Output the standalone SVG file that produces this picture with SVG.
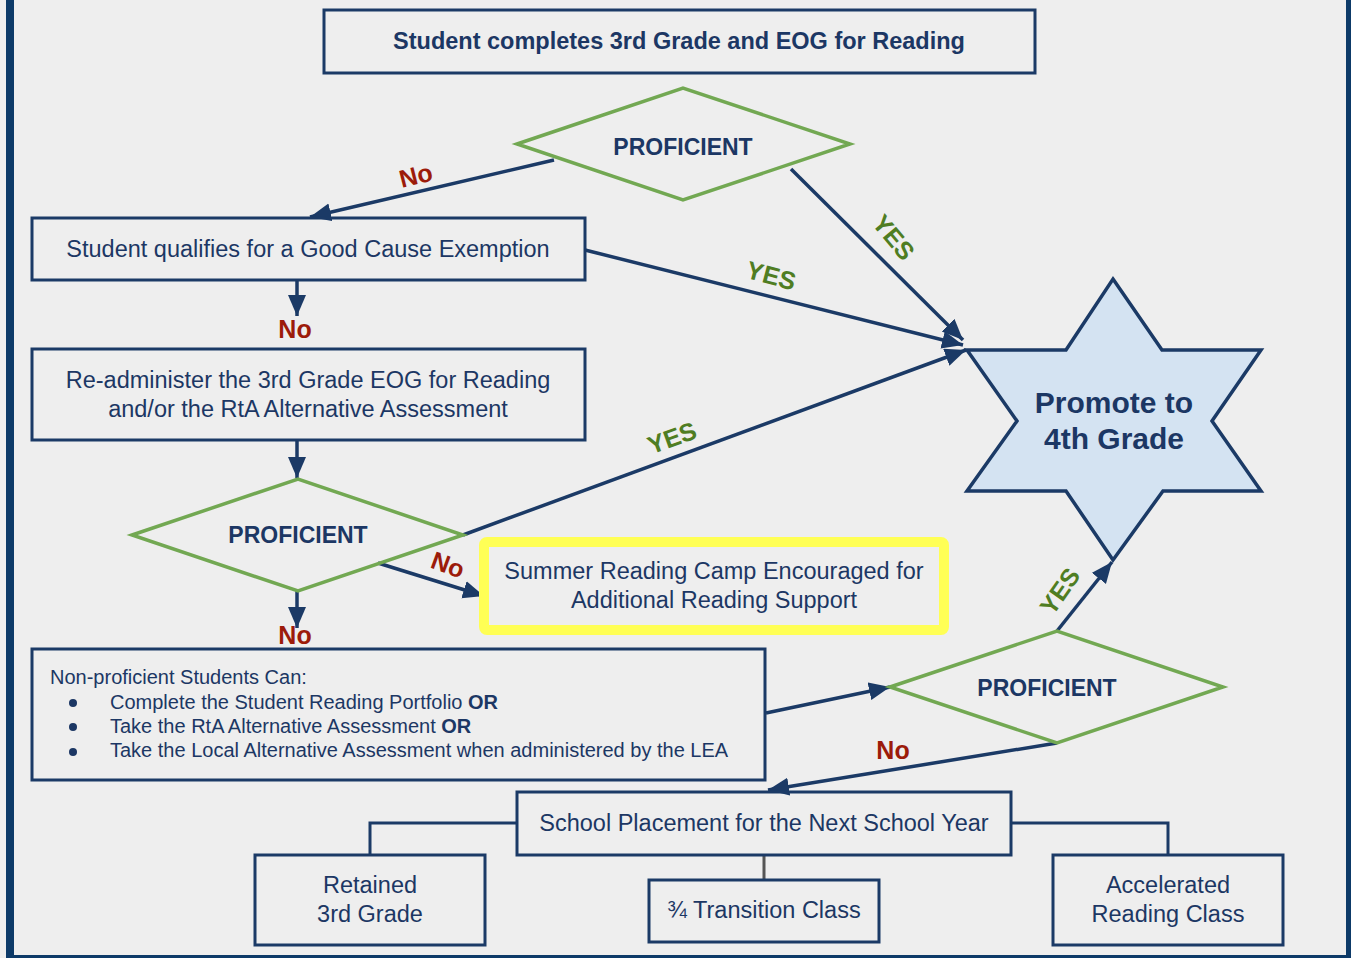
<svg xmlns="http://www.w3.org/2000/svg" width="1351" height="958" viewBox="0 0 1351 958">
<defs>
<marker id="ah" markerUnits="userSpaceOnUse" markerWidth="24" markerHeight="20" refX="21" refY="9" orient="auto">
<path d="M0,0 L21,9 L0,18 z" fill="#1b3a66"/>
</marker>
<style>
.bg{fill:#eeeeee}
.frame{fill:#0d3a68}
.box{fill:none;stroke:#1b3a66;stroke-width:3}
.dia{fill:none;stroke:#72a852;stroke-width:3.5;stroke-linejoin:miter}
.t{font-family:"Liberation Sans",Arial,sans-serif;font-size:23.5px;fill:#1c3764;text-anchor:middle}
.b{font-weight:bold}
.small{font-size:20px;text-anchor:start}
.no{font-family:"Liberation Sans",Arial,sans-serif;font-size:25px;font-weight:bold;fill:#9c1b0a;text-anchor:middle}
.yes{font-family:"Liberation Sans",Arial,sans-serif;font-size:25px;font-weight:bold;fill:#4f7d22;text-anchor:middle}
.ln{fill:none;stroke:#1b3a66;stroke-width:3}
.arr{fill:none;stroke:#1b3a66;stroke-width:3.5;marker-end:url(#ah)}
</style>
</defs>
<rect class="bg" x="0" y="0" width="1351" height="958"/>
<rect class="frame" x="6" y="0" width="8" height="958"/>
<rect class="frame" x="1346" y="0" width="5" height="958"/>
<rect class="frame" x="6" y="955" width="1345" height="3"/>

<g id="connectors">
<line class="arr" x1="554" y1="160" x2="310" y2="217"/>
<line class="arr" x1="791" y1="169" x2="963" y2="340"/>
<line class="arr" x1="585" y1="250" x2="963" y2="345"/>
<line class="arr" x1="297" y1="280" x2="297" y2="316"/>
<line class="arr" x1="297" y1="440" x2="297" y2="478"/>
<line class="arr" x1="463" y1="535" x2="966" y2="350"/>
<line class="arr" x1="378" y1="563" x2="484" y2="596"/>
<line class="arr" x1="297" y1="591" x2="297" y2="628"/>
<line class="arr" x1="766" y1="713" x2="890" y2="687"/>
<line class="arr" x1="1057" y1="631" x2="1112" y2="562"/>
<line class="arr" x1="1057" y1="743" x2="768" y2="790"/>
<polyline class="ln" points="517,823 370,823 370,855"/>
<polyline class="ln" points="1011,823 1168,823 1168,855"/>
<line x1="764" y1="855" x2="764" y2="880" stroke="#555555" stroke-width="3"/>
<text class="no" transform="translate(418,184) rotate(-14)">No</text>
<text class="yes" transform="translate(887,243) rotate(50)">YES</text>
<text class="yes" transform="translate(769,284) rotate(15)">YES</text>
<text class="yes" transform="translate(675,446) rotate(-20)">YES</text>
<text class="no" x="295" y="338">No</text>
<text class="no" x="295" y="644">No</text>
<text class="no" transform="translate(445,573) rotate(20)">No</text>
<text class="no" x="893" y="759">No</text>
<text class="yes" transform="translate(1067,596) rotate(-55)">YES</text>
</g>

<g id="start">
<rect class="box" x="324" y="10" width="711" height="63"/>
<text class="t b" x="679" y="49">Student completes 3rd Grade and EOG for Reading</text>
</g>

<g id="proficient1">
<polygon class="dia" points="517,144 683,88 850,144 683,200"/>
<text class="t b" x="683" y="155" style="font-size:23px">PROFICIENT</text>
</g>

<g id="goodcause">
<rect class="box" x="32" y="218" width="553" height="62"/>
<text class="t" x="308" y="257">Student qualifies for a Good Cause Exemption</text>
</g>

<g id="readminister">
<rect class="box" x="32" y="349" width="553" height="91"/>
<text class="t" x="308" y="388">Re-administer the 3rd Grade EOG for Reading</text>
<text class="t" x="308" y="417">and/or the RtA Alternative Assessment</text>
</g>

<g id="proficient2">
<polygon class="dia" points="132,535 298,479 463,535 298,591"/>
<text class="t b" x="298" y="543" style="font-size:23px">PROFICIENT</text>
</g>

<g id="summer">
<rect x="484" y="542" width="460" height="88" rx="3" fill="none" stroke="#ffff55" stroke-width="10"/>
<text class="t" x="714" y="579">Summer Reading Camp Encouraged for</text>
<text class="t" x="714" y="608">Additional Reading Support</text>
</g>

<g id="promote">
<polygon points="1113,279 1162,350 1261,350 1212,421 1261,491 1163,491 1113,560 1066,491 967,491 1017,421 967,350 1066,350" fill="#d4e3f2" stroke="#1b3a66" stroke-width="3.5" stroke-linejoin="miter"/>
<text class="t b" x="1114" y="413" style="font-size:30px">Promote to</text>
<text class="t b" x="1114" y="449" style="font-size:30px">4th Grade</text>
</g>

<g id="nonproficient">
<rect class="box" x="32" y="649" width="733" height="131"/>
<text class="t small" x="50" y="684">Non-proficient Students Can:</text>
<circle cx="73" cy="703" r="4" fill="#1c3764"/>
<circle cx="73" cy="727" r="4" fill="#1c3764"/>
<circle cx="73" cy="752" r="4" fill="#1c3764"/>
<text class="t small" x="110" y="709">Complete the Student Reading Portfolio <tspan font-weight="bold">OR</tspan></text>
<text class="t small" x="110" y="733">Take the RtA Alternative Assessment <tspan font-weight="bold">OR</tspan></text>
<text class="t small" x="110" y="757">Take the Local Alternative Assessment when administered by the LEA</text>
</g>

<g id="proficient3">
<polygon class="dia" points="890,687 1057,631 1223,687 1057,743"/>
<text class="t b" x="1047" y="696" style="font-size:23px">PROFICIENT</text>
</g>

<g id="placement">
<rect class="box" x="517" y="792" width="494" height="63"/>
<text class="t" x="764" y="831">School Placement for the Next School Year</text>
</g>

<g id="retained">
<rect class="box" x="255" y="855" width="230" height="90"/>
<text class="t" x="370" y="893">Retained</text>
<text class="t" x="370" y="922">3rd Grade</text>
</g>

<g id="transition">
<rect class="box" x="649" y="880" width="230" height="62"/>
<text class="t" x="764" y="918">¾ Transition Class</text>
</g>

<g id="accelerated">
<rect class="box" x="1053" y="855" width="230" height="90"/>
<text class="t" x="1168" y="893">Accelerated</text>
<text class="t" x="1168" y="922">Reading Class</text>
</g>
</svg>
